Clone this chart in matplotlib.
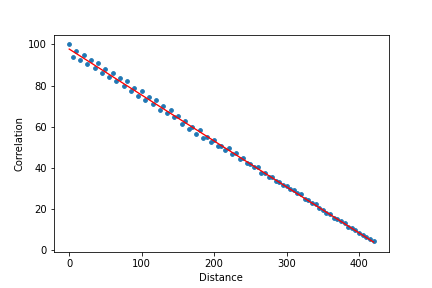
import matplotlib
matplotlib.use("Agg")
import matplotlib.pyplot as plt
import numpy as np

# distance steps of 5
distance = list(range(0, 425, 5))
correlation = [
    100.0, 93.9, 96.8, 92.6, 95.0, 90.7, 92.3, 88.7, 91.0, 86.2,
    88.1, 84.2, 86.2, 82.1, 83.8, 79.9, 82.3, 77.5, 78.6, 75.1,
    77.5, 73.1, 74.6, 71.2, 73.1, 68.3, 69.9, 66.7, 68.3, 64.6,
    65.1, 61.5, 62.9, 59.1, 59.9, 56.7, 58.3, 54.7, 55.1, 52.4,
    53.8, 50.7, 50.7, 48.6, 49.5, 46.6, 47.3, 44.2, 44.6, 42.2,
    41.8, 40.3, 40.3, 37.7, 37.7, 35.7, 35.7, 33.8, 33.0, 31.7,
    31.4, 29.7, 29.3, 27.7, 27.2, 24.8, 24.2, 22.9, 22.6, 20.5,
    19.7, 18.1, 17.6, 15.9, 15.2, 14.0, 13.2, 11.3, 10.8, 9.6,
    8.6, 7.4, 6.4, 5.4, 4.5,
]

x = np.array(distance)
y = np.array(correlation)

# linear fit drawn in red
slope, intercept = np.polyfit(x, y, 1)

fig, ax = plt.subplots(figsize=(6, 4), dpi=72)
fig.subplots_adjust(left=0.125, right=0.9, top=0.88, bottom=0.125)

ax.scatter(x, y, s=14, color='#1f77b4')
ax.plot(x, slope * x + intercept, color='red', linewidth=1.3)

ax.set_xlabel('Distance')
ax.set_ylabel('Correlation')

fig.savefig('out.png', dpi=72)
